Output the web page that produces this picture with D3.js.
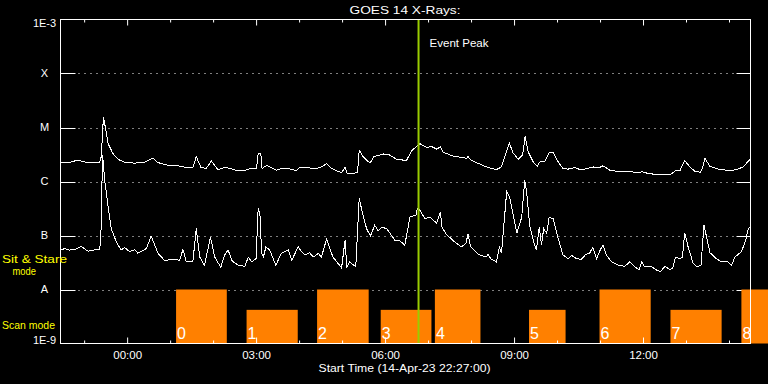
<!DOCTYPE html>
<html>
<head>
<meta charset="utf-8">
<script src="https://cdn.jsdelivr.net/npm/d3@7"></script>
<style>
body { margin: 0; background: #000; }
svg { display: block; font-family: "Liberation Sans", Arial, sans-serif; }
</style>
</head>
<body>
<div id="chart"></div>
<script>
// [hours from 00:00 UT 15-Apr-23, log10 flux W/m^2]
const longChannel = [
  [-1.53,-5.64],[-1.29,-5.64],[-1.21,-5.62],[-1.06,-5.62],[-0.90,-5.65],[-0.63,-5.65],[-0.59,-5.54],[-0.54,-4.81],
  [-0.51,-4.93],[-0.43,-5.30],[-0.32,-5.48],[-0.20,-5.59],[-0.05,-5.64],[0.19,-5.66],[0.42,-5.64],[0.61,-5.57],
  [0.73,-5.65],[0.96,-5.70],[1.19,-5.71],[1.39,-5.74],[1.54,-5.74],[1.62,-5.54],[1.73,-5.74],[1.85,-5.76],
  [1.97,-5.62],[2.12,-5.78],[2.28,-5.74],[2.43,-5.76],[2.56,-5.80],[2.75,-5.80],[2.83,-5.77],[3.02,-5.76],
  [3.06,-5.48],[3.12,-5.48],[3.15,-5.76],[3.26,-5.70],[3.49,-5.79],[3.64,-5.75],[3.80,-5.77],[3.95,-5.80],
  [4.03,-5.74],[4.26,-5.75],[4.42,-5.76],[4.53,-5.73],[4.65,-5.67],[4.77,-5.76],[5.00,-5.84],[5.08,-5.73],
  [5.13,-5.85],[5.37,-5.84],[5.41,-5.42],[5.50,-5.54],[5.66,-5.66],[5.75,-5.54],[5.97,-5.49],[6.12,-5.51],
  [6.28,-5.59],[6.51,-5.61],[6.63,-5.43],[6.82,-5.30],[6.98,-5.37],[7.09,-5.35],[7.21,-5.40],[7.30,-5.36],
  [7.36,-5.46],[7.60,-5.53],[7.91,-5.57],[7.94,-5.54],[8.02,-5.61],[8.37,-5.73],[8.60,-5.78],[8.72,-5.73],
  [8.82,-5.48],[8.90,-5.29],[8.99,-5.47],[9.11,-5.59],[9.21,-5.51],[9.27,-5.16],[9.34,-5.45],[9.46,-5.64],
  [9.55,-5.72],[9.61,-5.64],[9.73,-5.62],[9.83,-5.47],[9.92,-5.46],[10.04,-5.64],[10.15,-5.76],[10.27,-5.77],
  [10.43,-5.74],[10.54,-5.78],[10.66,-5.77],[10.85,-5.73],[10.97,-5.75],[11.08,-5.71],[11.24,-5.79],[11.40,-5.81],
  [11.70,-5.81],[11.86,-5.84],[11.98,-5.82],[12.13,-5.85],[12.40,-5.88],[12.67,-5.86],[12.77,-5.80],[12.87,-5.80],
  [12.98,-5.61],[13.10,-5.73],[13.22,-5.81],[13.35,-5.83],[13.40,-5.74],[13.45,-5.57],[13.57,-5.72],[13.76,-5.77],
  [14.03,-5.80],[14.19,-5.78],[14.34,-5.73],[14.50,-5.59]
];

const shortChannel = [
  [-1.53,-7.27],[-1.44,-7.24],[-1.33,-7.27],[-1.21,-7.26],[-1.06,-7.20],[-0.90,-7.29],[-0.78,-7.27],[-0.63,-7.26],
  [-0.60,-7.06],[-0.56,-5.51],[-0.51,-5.98],[-0.43,-6.47],[-0.36,-6.87],[-0.24,-7.12],[-0.13,-7.27],[-0.05,-7.22],
  [0.07,-7.30],[0.19,-7.26],[0.26,-7.33],[0.46,-7.24],[0.57,-7.01],[0.73,-7.33],[0.88,-7.46],[1.12,-7.44],
  [1.23,-7.46],[1.31,-7.26],[1.39,-7.49],[1.54,-7.49],[1.62,-6.87],[1.70,-7.40],[1.81,-7.55],[1.95,-7.03],
  [2.05,-7.40],[2.19,-7.59],[2.28,-7.36],[2.36,-7.27],[2.45,-7.46],[2.48,-7.49],[2.60,-7.55],[2.75,-7.57],
  [2.83,-7.40],[2.91,-7.49],[3.01,-7.43],[3.06,-6.50],[3.10,-6.59],[3.14,-7.33],[3.18,-7.40],[3.24,-7.21],
  [3.33,-7.27],[3.47,-7.55],[3.60,-7.33],[3.76,-7.27],[3.84,-7.46],[3.99,-7.21],[4.07,-7.30],[4.15,-7.36],
  [4.26,-7.32],[4.34,-7.40],[4.46,-7.33],[4.53,-7.40],[4.65,-7.07],[4.80,-7.40],[5.00,-7.60],[5.08,-7.09],
  [5.12,-7.58],[5.19,-7.49],[5.33,-7.58],[5.41,-6.31],[5.47,-6.53],[5.58,-6.87],[5.67,-7.01],[5.77,-6.81],
  [5.85,-6.91],[5.93,-6.85],[6.05,-6.87],[6.24,-7.09],[6.36,-7.10],[6.47,-7.18],[6.59,-6.66],[6.73,-6.62],
  [6.76,-6.50],[6.82,-6.53],[6.94,-6.69],[7.05,-6.66],[7.21,-6.77],[7.30,-6.56],[7.33,-6.84],[7.44,-6.98],
  [7.63,-7.12],[7.79,-7.21],[7.89,-7.15],[7.94,-6.98],[8.00,-7.21],[8.18,-7.35],[8.36,-7.40],[8.41,-7.35],
  [8.47,-7.43],[8.60,-7.49],[8.67,-7.21],[8.72,-7.33],[8.84,-6.19],[8.91,-6.29],[9.03,-6.78],[9.08,-6.95],
  [9.19,-6.66],[9.26,-5.98],[9.30,-6.16],[9.38,-6.84],[9.47,-7.12],[9.53,-7.27],[9.60,-6.84],[9.65,-7.18],
  [9.70,-6.87],[9.77,-6.96],[9.83,-6.66],[9.92,-6.69],[10.04,-7.06],[10.15,-7.36],[10.27,-7.43],[10.35,-7.37],
  [10.47,-7.43],[10.58,-7.44],[10.68,-7.35],[10.77,-7.33],[10.84,-7.22],[10.93,-7.43],[11.02,-7.26],[11.08,-7.18],
  [11.16,-7.36],[11.28,-7.49],[11.43,-7.55],[11.59,-7.57],[11.70,-7.49],[11.82,-7.58],[11.92,-7.64],[11.98,-7.49],
  [12.05,-7.58],[12.21,-7.58],[12.33,-7.64],[12.42,-7.67],[12.52,-7.57],[12.64,-7.63],[12.70,-7.61],[12.77,-7.40],
  [12.87,-7.43],[12.93,-7.40],[12.98,-6.95],[13.06,-7.21],[13.18,-7.52],[13.26,-7.58],[13.36,-7.55],[13.43,-6.81],
  [13.49,-7.03],[13.57,-7.32],[13.72,-7.43],[13.84,-7.49],[13.99,-7.49],[14.07,-7.55],[14.15,-7.40],[14.30,-7.30],
  [14.40,-7.09],[14.46,-6.87],[14.50,-6.84]
];

// observing mode blocks (hours from 00:00 UT 15-Apr-23)
const modeStart = [1.15, 2.79, 4.43, 5.91, 7.17, 9.36, 11.00, 12.65, 14.30];
const modeEnd   = [2.33, 3.98, 5.63, 7.09, 8.23, 10.21, 12.19, 13.84, 15.00];
const modeType  = ["stare", "scan", "stare", "scan", "stare", "scan", "stare", "scan", "stare"];
const modeTop   = { stare: 1e-8, scan: 4.2e-9 };

const levelNames = ["1E-3", "X", "M", "C", "B", "A", "1E-9"];
const levelFlux  = [1e-3, 1e-4, 1e-5, 1e-6, 1e-7, 1e-8, 1e-9];

const eventPeakHour = 6.79;
const startTime = new Date(Date.UTC(2023, 3, 14, 22, 27));
const endTime   = new Date(Date.UTC(2023, 3, 15, 14, 30));

const width = 768;
const height = 384;
const marginLeft = 60;
const marginRight = 18;
const marginTop = 19.5;
const marginBottom = 40.5;

const toDate = h => new Date(Date.UTC(2023, 3, 15) + h * 3600e3);

const svg = d3.select("#chart")
    .append("svg")
    .attr("width", width)
    .attr("height", height)
    .style("background", "#000");

const x = d3.scaleUtc()
    .domain([startTime, endTime])
    .range([marginLeft, width - marginRight]);

const y = d3.scaleLog()
    .domain([1e-9, 1e-3])
    .range([height - marginBottom, marginTop]);

const x0 = marginLeft + 0.5, x1 = width - marginRight + 0.5;

// dotted class levels + inner ticks
const grid = svg.append("g");
levelFlux.slice(1, 6).forEach(f => {
  const yy = Math.round(y(f)) + 0.5;
  grid.append("line").attr("x1", x0).attr("x2", x0 + 15).attr("y1", yy).attr("y2", yy)
      .attr("stroke", "#fff");
  grid.append("line").attr("x1", x1 - 14).attr("x2", x1).attr("y1", yy).attr("y2", yy)
      .attr("stroke", "#fff");
  grid.append("line").attr("x1", x0 + 18).attr("x2", x1 - 14).attr("y1", yy).attr("y2", yy)
      .attr("stroke", "#fff").attr("stroke-dasharray", "1,5");
});

// mode bars
const bars = modeStart.map((s, i) => ({ s, e: modeEnd[i], type: modeType[i], n: i }));
svg.append("g").selectAll("rect")
  .data(bars)
  .join("rect")
    .attr("x", d => x(toDate(d.s)))
    .attr("width", d => x(toDate(d.e)) - x(toDate(d.s)))
    .attr("y", d => y(modeTop[d.type]))
    .attr("height", d => y(1e-9) - y(modeTop[d.type]))
    .attr("fill", "#ff8000");

svg.append("g").selectAll("text")
  .data(bars)
  .join("text")
    .attr("x", d => x(toDate(d.s)) + 1)
    .attr("y", y(1e-9) - 5)
    .attr("fill", "#fff")
    .attr("font-size", 16)
    .text(d => d.n);

// flux curves
const line = d3.line()
    .x(d => x(toDate(d[0])))
    .y(d => y(Math.pow(10, d[1])));

[longChannel, shortChannel].forEach(series => {
  svg.append("path")
      .datum(series)
      .attr("fill", "none")
      .attr("stroke", "#fff")
      .attr("stroke-width", 1)
      .attr("shape-rendering", "crispEdges")
      .attr("d", line);
});

// event peak marker
const xp = x(toDate(eventPeakHour));
svg.append("line")
    .attr("x1", xp).attr("x2", xp)
    .attr("y1", y(1e-3)).attr("y2", y(1e-9))
    .attr("stroke", "#99cc00")
    .attr("stroke-width", 2);

svg.append("text")
    .attr("x", xp + 11)
    .attr("y", 46.5)
    .attr("fill", "#fff")
    .attr("font-size", 11)
    .attr("textLength", 59)
    .attr("lengthAdjust", "spacingAndGlyphs")
    .text("Event Peak");

// frame
svg.append("rect")
    .attr("x", x0).attr("y", marginTop)
    .attr("width", x1 - x0).attr("height", y(1e-9) - marginTop)
    .attr("fill", "none")
    .attr("stroke", "#fff");

// time axes
const hours = d3.utcHour.range(startTime, endTime);
const major = hours.filter(d => d.getUTCHours() % 3 === 0);
const minor = hours.filter(d => d.getUTCHours() % 3 !== 0);

const styleAxis = g => {
  g.select(".domain").remove();
  g.selectAll("line").attr("stroke", "#fff");
  g.selectAll("text").attr("fill", "#fff").attr("font-size", 11.5)
      .attr("font-family", "Liberation Sans, Arial, sans-serif");
};

svg.append("g")
    .attr("transform", `translate(0.5,${y(1e-9)})`)
    .call(d3.axisBottom(x).tickValues(major).tickSize(-6).tickPadding(7)
        .tickFormat(d3.utcFormat("%H:%M")))
    .call(styleAxis);
svg.append("g")
    .attr("transform", `translate(0.5,${y(1e-9)})`)
    .call(d3.axisBottom(x).tickValues(minor).tickSize(-3).tickFormat(""))
    .call(styleAxis);
svg.append("g")
    .attr("transform", `translate(0.5,${marginTop})`)
    .call(d3.axisTop(x).tickValues(major).tickSize(-6).tickFormat(""))
    .call(styleAxis);
svg.append("g")
    .attr("transform", `translate(0.5,${marginTop})`)
    .call(d3.axisTop(x).tickValues(minor).tickSize(-3).tickFormat(""))
    .call(styleAxis);

// flux level labels
svg.append("g").selectAll("text")
  .data(levelNames)
  .join("text")
    .attr("x", 44.5)
    .attr("y", (d, i) => y(levelFlux[i]))
    .attr("dy", (d, i) => i === 0 ? "0.72em" : i === levelNames.length - 1 ? "0" : "0.36em")
    .attr("text-anchor", "middle")
    .attr("fill", "#fff")
    .attr("font-size", 11)
    .text(d => d);

// mode labels
const modeLabels = [
  { t: "Sit & Stare", x: 2, y: 263, w: 65 },
  { t: "mode", x: 12.5, y: 274.5, w: 23.5 },
  { t: "Scan mode", x: 2, y: 328.5, w: 53 }
];
svg.append("g").selectAll("text")
  .data(modeLabels)
  .join("text")
    .attr("x", d => d.x)
    .attr("y", d => d.y)
    .attr("fill", "#ffff00")
    .attr("font-size", 11)
    .attr("textLength", d => d.w)
    .attr("lengthAdjust", "spacingAndGlyphs")
    .text(d => d.t);

// titles
svg.append("text")
    .attr("x", 405)
    .attr("y", 14)
    .attr("text-anchor", "middle")
    .attr("fill", "#fff")
    .attr("font-size", 10.5)
    .attr("textLength", 111)
    .attr("lengthAdjust", "spacingAndGlyphs")
    .text("GOES 14 X-Rays:");

svg.append("text")
    .attr("x", 404.5)
    .attr("y", 372)
    .attr("text-anchor", "middle")
    .attr("fill", "#fff")
    .attr("font-size", 11.5)
    .attr("textLength", 172)
    .attr("lengthAdjust", "spacingAndGlyphs")
    .text("Start Time (14-Apr-23 22:27:00)");
</script>
</body>
</html>
